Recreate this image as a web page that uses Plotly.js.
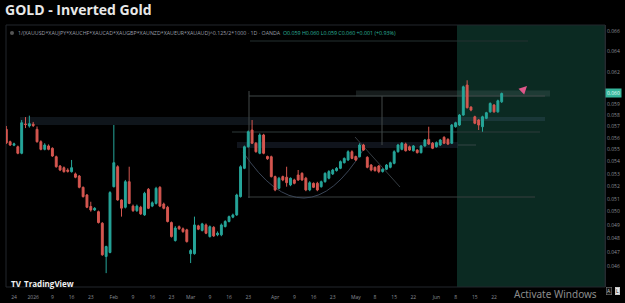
<!DOCTYPE html>
<html>
<head>
<meta charset="utf-8">
<script src="https://cdn.plot.ly/plotly-3.0.1.min.js"></script>
<style>html,body{margin:0;padding:0;background:#000;}#chart{width:625px;height:303px;}</style>
</head>
<body>
<div id="chart"></div>
<script>
// ---- DATA ----
const firstDay = '2025-12-22';
const holidays = ['2025-12-25', '2026-01-01', '2026-04-03'];
const open  = [0.05675,0.05568,0.05538,0.05525,0.05470,0.05722,0.05704,0.05720,0.05675,0.05568,
  0.05503,0.05532,0.05512,0.05441,0.05364,0.05350,0.05330,0.05317,0.05299,0.05282,
  0.05191,0.05130,0.05040,0.05013,0.05000,0.04912,0.04667,0.04696,0.05196,0.05358,
  0.05091,0.05034,0.05236,0.05043,0.05008,0.05034,0.04975,0.05175,0.05043,0.05064,
  0.05191,0.05059,0.05034,0.04917,0.04783,0.04886,0.04870,0.04862,0.04687,0.04687,
  0.04892,0.04858,0.04899,0.04812,0.04881,0.04825,0.04825,0.04887,0.04925,0.04958,
  0.04975,0.05117,0.05345,0.05525,0.05669,0.05555,0.05470,0.05626,0.05443,0.05441,
  0.05277,0.05183,0.05277,0.05272,0.05210,0.05250,0.05290,0.05304,0.05264,0.05170,
  0.05223,0.05223,0.05196,0.05236,0.05264,0.05299,0.05326,0.05345,0.05391,0.05414,
  0.05483,0.05443,0.05441,0.05540,0.05436,0.05372,0.05353,0.05364,0.05318,0.05337,
  0.05353,0.05386,0.05483,0.05503,0.05548,0.05525,0.05491,0.05497,0.05475,0.05532,
  0.05588,0.05555,0.05525,0.05540,0.05606,0.05588,0.05555,0.05698,0.05713,0.05801,
  0.06075,0.05873,0.05786,0.05757,0.05698,0.05772,0.05830,0.05891,0.05830,0.05921];
const high  = [0.05704,0.05577,0.05560,0.05535,0.05757,0.05783,0.05796,0.05740,0.05700,0.05580,
  0.05555,0.05545,0.05520,0.05450,0.05372,0.05360,0.05345,0.05414,0.05310,0.05290,
  0.05197,0.05138,0.05077,0.05035,0.05008,0.04920,0.04745,0.05160,0.05713,0.05370,
  0.05095,0.05250,0.05358,0.05055,0.05055,0.05045,0.05155,0.05185,0.05080,0.05195,
  0.05200,0.05070,0.05045,0.04925,0.04890,0.04895,0.04880,0.04870,0.04720,0.04962,
  0.04900,0.04915,0.04910,0.04895,0.04890,0.04850,0.04910,0.04935,0.04970,0.04985,
  0.05140,0.05370,0.05535,0.05665,0.05757,0.05565,0.05640,0.05636,0.05450,0.05450,
  0.05285,0.05275,0.05285,0.05358,0.05270,0.05260,0.05331,0.05312,0.05275,0.05240,
  0.05230,0.05235,0.05245,0.05312,0.05330,0.05340,0.05355,0.05410,0.05435,0.05495,
  0.05495,0.05450,0.05555,0.05550,0.05445,0.05380,0.05360,0.05372,0.05345,0.05380,
  0.05400,0.05495,0.05550,0.05565,0.05560,0.05535,0.05540,0.05505,0.05540,0.05592,
  0.05698,0.05565,0.05570,0.05592,0.05615,0.05598,0.05722,0.05742,0.05810,0.06070,
  0.06120,0.05880,0.05795,0.05765,0.05795,0.05830,0.05915,0.05900,0.05940,0.06005];
const low   = [0.05548,0.05532,0.05530,0.05462,0.05462,0.05686,0.05690,0.05695,0.05560,0.05495,
  0.05495,0.05495,0.05440,0.05350,0.05322,0.05310,0.05310,0.05310,0.05264,0.05183,
  0.05110,0.05027,0.05000,0.05005,0.04910,0.04672,0.04549,0.04690,0.05190,0.05085,
  0.04962,0.05025,0.05058,0.04998,0.04998,0.04975,0.04968,0.05020,0.05035,0.05055,
  0.05035,0.05018,0.04918,0.04805,0.04775,0.04862,0.04840,0.04768,0.04620,0.04680,
  0.04860,0.04850,0.04830,0.04805,0.04810,0.04815,0.04815,0.04880,0.04918,0.04950,
  0.04968,0.05110,0.05338,0.05518,0.05548,0.05475,0.05462,0.05462,0.05415,0.05270,
  0.05160,0.05175,0.05240,0.05196,0.05200,0.05215,0.05242,0.05242,0.05160,0.05160,
  0.05185,0.05160,0.05188,0.05228,0.05255,0.05290,0.05318,0.05338,0.05385,0.05405,
  0.05420,0.05405,0.05435,0.05490,0.05345,0.05320,0.05318,0.05305,0.05310,0.05330,
  0.05345,0.05378,0.05475,0.05495,0.05485,0.05490,0.05485,0.05468,0.05468,0.05525,
  0.05540,0.05505,0.05518,0.05532,0.05548,0.05540,0.05548,0.05690,0.05705,0.05795,
  0.05860,0.05835,0.05720,0.05669,0.05654,0.05765,0.05822,0.05822,0.05822,0.05910];
const close = [0.05559,0.05540,0.05550,0.05470,0.05733,0.05717,0.05725,0.05708,0.05568,0.05503,
  0.05540,0.05503,0.05447,0.05358,0.05331,0.05317,0.05320,0.05350,0.05272,0.05191,
  0.05117,0.05034,0.05013,0.05026,0.04917,0.04679,0.04739,0.05149,0.05391,0.05091,
  0.05027,0.05236,0.05064,0.05008,0.05043,0.04983,0.05143,0.05026,0.05069,0.05183,
  0.05043,0.05026,0.04925,0.04812,0.04876,0.04870,0.04849,0.04775,0.04710,0.04899,
  0.04867,0.04907,0.04837,0.04886,0.04817,0.04837,0.04899,0.04925,0.04962,0.04975,
  0.05130,0.05358,0.05525,0.05654,0.05555,0.05483,0.05626,0.05470,0.05424,0.05277,
  0.05170,0.05264,0.05250,0.05228,0.05264,0.05223,0.05250,0.05250,0.05170,0.05228,
  0.05191,0.05170,0.05236,0.05304,0.05318,0.05331,0.05345,0.05400,0.05427,0.05483,
  0.05427,0.05414,0.05540,0.05497,0.05353,0.05331,0.05326,0.05318,0.05337,0.05372,
  0.05391,0.05483,0.05540,0.05555,0.05491,0.05497,0.05532,0.05475,0.05532,0.05583,
  0.05548,0.05512,0.05560,0.05583,0.05555,0.05548,0.05713,0.05733,0.05801,0.06059,
  0.05867,0.05846,0.05728,0.05713,0.05786,0.05822,0.05906,0.05830,0.05930,0.05997];
const tickDates  = ['2025-12-24','2026-01-02','2026-01-09','2026-01-16','2026-01-23','2026-02-02','2026-02-09',
  '2026-02-16','2026-02-23','2026-03-02','2026-03-09','2026-03-16','2026-03-23','2026-04-01','2026-04-09',
  '2026-04-16','2026-04-23','2026-05-01','2026-05-08','2026-05-15','2026-05-22','2026-06-01','2026-06-08',
  '2026-06-15','2026-06-22'];
const tickLabels = ['24','2026','9','16','23','Feb','9','16','23','Mar','9','16','23','Apr','9','16','23',
  'May','8','15','22','Jun','8','15','22'];
const priceTicks = [0.046,0.047,0.048,0.049,0.050,0.051,0.052,0.053,0.054,0.055,0.056,0.057,0.058,0.059,0.062,0.064,0.066];
const symbolText = '1/(XAUUSD*XAUJPY*XAUCHF*XAUCAD*XAUGBP*XAUNZD*XAUEUR*XAUAUD)^0.125/2*1000 · 1D · OANDA';
const ohlcText = 'O0.059 H0.060 L0.059 C0.060 +0.001 (+0.93%)';
const lastLabel = '0.060';

// trading-day categories (weekdays minus market holidays)
const dates = [];
{
  const d = new Date(firstDay + 'T00:00:00Z');
  while (dates.length < close.length) {
    const s = d.toISOString().slice(0, 10);
    const wd = d.getUTCDay();
    if (wd !== 0 && wd !== 6 && holidays.indexOf(s) < 0) dates.push(s);
    d.setUTCDate(d.getUTCDate() + 1);
  }
}

const G = '#26a69a', R = '#d65750';
const trace = {
  type: 'candlestick', x: dates, open: open, high: high, low: low, close: close,
  increasing: {line: {color: G, width: 1}, fillcolor: G},
  decreasing: {line: {color: R, width: 1}, fillcolor: R},
  hoverinfo: 'none', showlegend: false
};

// pixel -> paper helpers for the drawing overlays
const L0 = 6, R0 = 605, T0 = 25, B0 = 287;
const PX = p => (p - L0) / (R0 - L0);
const PY = p => (B0 - p) / (B0 - T0);
const rectPx = (x0, y0, x1, y1, fill, lineCol, layer) => ({type: 'rect', xref: 'paper', yref: 'paper',
  x0: PX(x0), x1: PX(x1), y0: PY(y1), y1: PY(y0), fillcolor: fill, line: {width: lineCol ? 1 : 0, color: lineCol || 'rgba(0,0,0,0)'}, layer: layer || 'below'});
const linePx = (x0, y0, x1, y1, col, w, dash) => ({type: 'line', xref: 'paper', yref: 'paper',
  x0: PX(x0), x1: PX(x1), y0: PY(y0), y1: PY(y1), line: {color: col, width: w || 1, dash: dash || 'solid'}, layer: 'below'});

const shapes = [
  rectPx(457, 25, 605, 287, '#0b2a22'),
  linePx(250, 41, 528, 41, '#243030', 1),
  rectPx(20, 117, 458, 125, 'rgba(40,55,72,0.38)'),
  rectPx(458, 117, 545, 121, 'rgba(70,95,120,0.28)'),
  rectPx(356, 90.5, 550, 96.5, 'rgba(90,115,115,0.24)'),
  linePx(249, 96, 545, 96, '#404848', 1),
  linePx(232, 132, 540, 132, '#2f3a3b', 1),
  rectPx(237, 142, 458, 148, 'rgba(40,50,70,0.40)'),
  linePx(458, 145, 476, 145, '#344444', 1),
  linePx(248, 197, 535, 197, '#383e3e', 1),
  linePx(249, 91, 249, 198, '#434849', 1),
  linePx(382, 96, 382, 145, '#434849', 1),
  linePx(355, 137, 400, 187, '#353c42', 1),
  {type: 'path', xref: 'paper', yref: 'paper', layer: 'below',
   path: `M ${PX(243)} ${PY(152)} Q ${PX(305)} ${PY(245)} ${PX(363)} ${PY(150)}`,
   line: {color: '#3a4556', width: 1}},
  {type: 'rect', xref: 'paper', yref: 'paper', x0: 0, x1: 1, y0: 0, y1: 1, line: {color: '#23272c', width: 1}, layer: 'below'},
  {type: 'circle', xref: 'paper', yref: 'paper', x0: PX(10), x1: PX(14), y0: PY(35), y1: PY(31), fillcolor: '#555', line: {width: 0}}
];

const ann = (px, py, text, size, color, extra) => Object.assign({xref: 'paper', yref: 'paper', x: PX(px), y: PY(py),
  text: text, showarrow: false, xanchor: 'left', yanchor: 'middle', font: {size: size, color: color, family: 'Open Sans, sans-serif'}}, extra || {});

const annotations = [
  ann(16, 33, symbolText + '  <span style="color:#2bb39a">' + ohlcText + '</span>', 5.3, '#9a9ea8'),
  {xref: 'paper', yref: 'y', x: 1, y: Math.log10(close[close.length - 1]), text: lastLabel, showarrow: false,
   xanchor: 'left', yanchor: 'middle', bgcolor: '#35b59b', borderpad: 1, font: {size: 5, color: '#eafff8', family: 'Open Sans, sans-serif'}},
  ann(9, 283, '<b>TV</b>', 8, '#f0f0f0'),
  ann(22, 283, '<b>TradingView</b>', 8, '#f0f0f0'),
  ann(512, 294, 'Activate Windows', 10, '#8c8c8c', {font: {size: 10, color: '#8c8c8c', family: 'Noto Sans, sans-serif'}}),
  ann(606, 291, 'A', 5, '#cccccc', {bordercolor: '#777', borderwidth: 0.6, borderpad: 0.5, bgcolor: '#111'}),
  ann(615, 291, 'L', 5, '#000000', {bordercolor: '#ddd', borderwidth: 0.6, borderpad: 0.5, bgcolor: '#e8e8e8'}),
  {xref: 'paper', yref: 'paper', x: PX(527), y: PY(86), ax: -6, ay: 6, axref: 'pixel', ayref: 'pixel', text: '',
   showarrow: true, arrowhead: 2, arrowsize: 1, arrowwidth: 1.6, arrowcolor: '#e0578a'}
];

const layout = {
  width: 625, height: 303,
  margin: {l: L0, r: 625 - R0, t: T0, b: 303 - B0, pad: 0},
  paper_bgcolor: '#000000', plot_bgcolor: '#000000',
  title: {text: '<b>GOLD - Inverted Gold</b>', x: 5 / 625, xanchor: 'left', xref: 'container',
          y: 1 - 10 / 303, yanchor: 'middle', yref: 'container',
          font: {family: 'Open Sans, sans-serif', size: 14, color: '#e8e8e8'}},
  xaxis: {type: 'category', range: [-0.08, 155.9], rangeslider: {visible: false},
          tickmode: 'array', tickvals: tickDates, ticktext: tickLabels,
          showgrid: false, zeroline: false, showline: false,
          ticks: 'outside', ticklen: 5, tickcolor: 'rgba(0,0,0,0)',
          tickfont: {size: 5, color: '#8a8e96', family: 'Open Sans, sans-serif'}, fixedrange: true},
  yaxis: {type: 'log', side: 'right', range: [Math.log10(0.04453), Math.log10(0.06663)],
          tickmode: 'array', tickvals: priceTicks, ticktext: priceTicks.map(v => v.toFixed(3)),
          showgrid: false, zeroline: false, showline: true, linecolor: '#262a30', ticks: '',
          tickfont: {size: 5, color: '#8a8e96', family: 'Open Sans, sans-serif'}, fixedrange: true},
  shapes: shapes,
  annotations: annotations,
  showlegend: false
};

Plotly.newPlot('chart', [trace], layout, {displayModeBar: false, staticPlot: true});
</script>
</body>
</html>
